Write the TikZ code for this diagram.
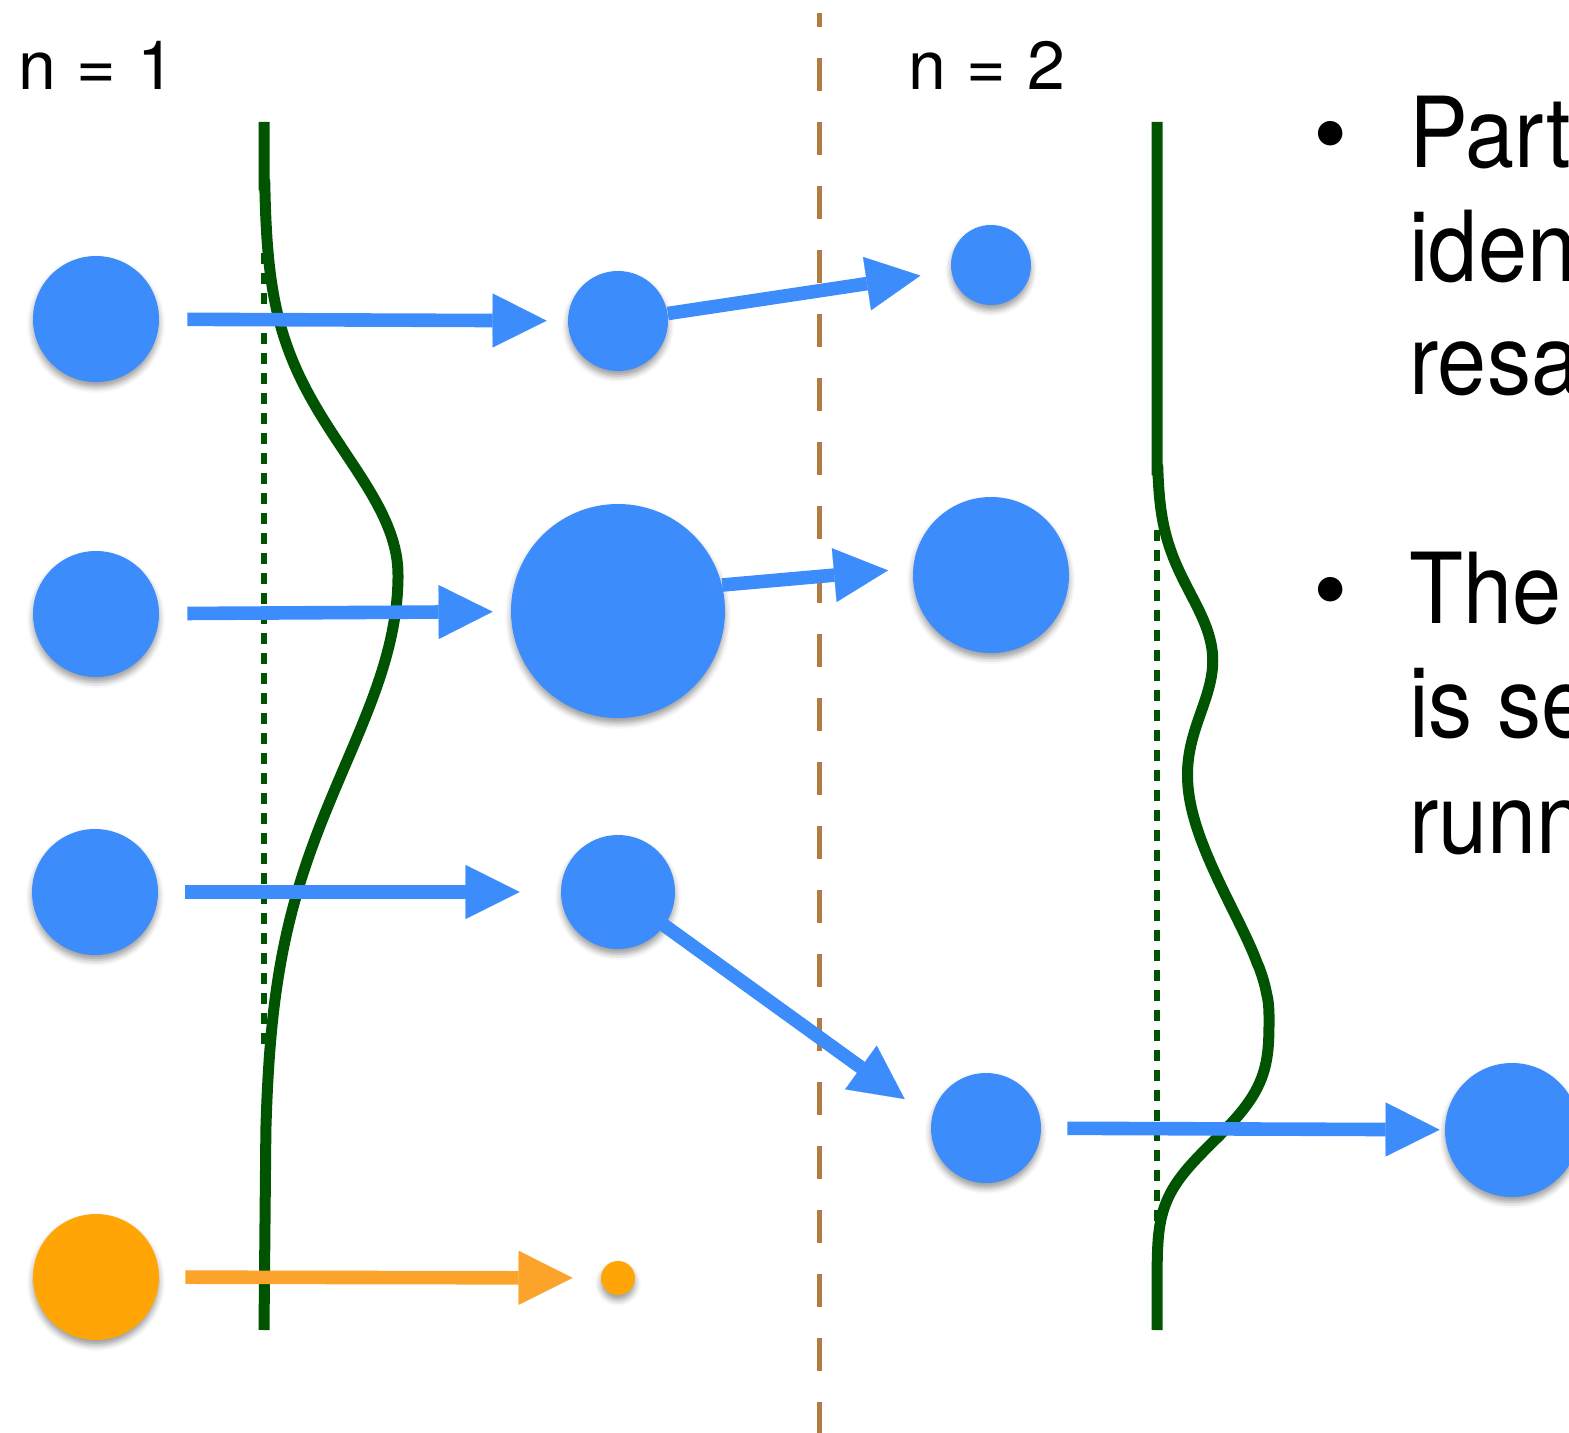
\documentclass[tikz,border=0pt]{standalone}
\usepackage{fontspec}
\setmainfont{TeX Gyre Heros}
\newfontfamily\narrowheros[FakeStretch=0.9]{TeX Gyre Heros}
\newfontfamily\wideheros[WordSpace=1.1]{TeX Gyre Heros}
\usetikzlibrary{arrows.meta,shadows.blur}
\definecolor{pblue}{HTML}{3C8CFC}
\definecolor{porange}{HTML}{FFA505}
\definecolor{porarrow}{HTML}{FCA32B}
\definecolor{pgreen}{HTML}{005300}
\definecolor{pbrown}{HTML}{B07C41}
\begin{document}
\begin{tikzpicture}[x=0.5pt,y=-0.5pt,
  particle/.style={circle, inner sep=0pt, fill=pblue, minimum size=#1,
    blur shadow={shadow xshift=0pt, shadow yshift=-2.5pt, shadow blur radius=3pt, shadow opacity=40}},
  oparticle/.style={particle=#1, fill=porange},
  barrow/.style={draw=pblue, line width=6.8pt,
    -{Triangle[length=27pt,width=27pt,line width=0.1pt]}},
  oarrow/.style={barrow, draw=porarrow},
  density/.style={draw=pgreen, line width=5.5pt},
  meanline/.style={draw=pgreen, line width=2.6pt, dash pattern=on 5.5pt off 4.5pt},
  split/.style={draw=pbrown, line width=2.5pt, dash pattern=on 16.5pt off 15.5pt, dash phase=9.5pt},
  label/.style={inner sep=0pt, anchor=base west, font=\fontsize{34}{40}\wideheros},
  bullettext/.style={inner sep=0pt, anchor=base west, font=\fontsize{49}{57}\narrowheros},
  bulletdot/.style={inner sep=0pt, anchor=base, font=\fontsize{49}{57}\selectfont}
]
\useasboundingbox (0,0) rectangle (1569,1433);

% labels
\node[label] (n1) at (18,90) {n = 1};
\node[label] (n2) at (908,90) {n = 2};

% iteration separator
\coordinate (septop) at (819,13);
\coordinate (sepbot) at (819,1433);
\draw[split] (septop) -- (sepbot);

% densities
\coordinate (d1top) at (264,122);
\coordinate (d1bot) at (264,1330);
\draw[density] (d1top) -- (264,185)
  -- plot[domain=185:1130, samples=160, variable=\t]
     ({264+134*exp(-min(((\t-575)/((\t<575)?122:190))^2/2,15))}, \t)
  -- (d1bot);
\coordinate (m1top) at (264,253);
\coordinate (m1bot) at (264,1051);
\draw[meanline] (m1top) -- (m1bot);

\coordinate (d2top) at (1157,122);
\coordinate (d2bot) at (1157,1330);
\draw[density] (d2top) -- (1157,470)
  -- plot[domain=470:1265, samples=180, variable=\t]
     ({1157+51*exp(-min(((\t-655)/63)^2/2,15))
       +112*((\t<1015) ? exp(-min(pow(((1015-\t)/176)^2+0.0517,0.825)-0.0866,15))
                       : exp(-min(pow(abs(\t-1015)/142+0.001,3.3),15)))}, \t)
  -- (d2bot);
\coordinate (m2top) at (1157,530);
\coordinate (m2bot) at (1157,1223);
\draw[meanline] (m2top) -- (m2bot);

% particles
\node[particle=63pt] (l1) at (96,319) {};
\node[particle=63pt] (l2) at (96,614) {};
\node[particle=63pt] (l3) at (95,892) {};
\node[oparticle=63pt] (lo) at (96,1277) {};

\node[particle=50pt] (m1) at (618,321) {};
\node[particle=107pt] (m2) at (618,611) {};
\node[particle=57pt] (m3) at (618,892) {};
\node[oparticle=17pt] (mo) at (618,1278) {};

\node[particle=40pt] (r1) at (991,265) {};
\node[particle=78pt] (r2) at (991,575) {};
\node[particle=55pt] (r3) at (986,1128) {};

\node[particle=67pt] (f1) at (1512,1130) {};

% arrows
\draw[barrow, shorten <=14pt, shorten >=10.5pt] (l1) -- (m1);
\draw[barrow, shorten <=14pt, shorten >=9pt] (l2) -- (m2);
\draw[barrow, shorten <=13.5pt, shorten >=20.5pt] (l3) -- (m3);
\draw[oarrow, shorten <=13pt, shorten >=14pt] (lo) -- (mo);

\draw[barrow, shorten >=15.5pt] (m1) -- (r1);
\draw[barrow, shorten >=12.5pt] (m2.14) -- (r2.175);
\draw[barrow, shorten <=22.5pt, shorten >=16.5pt] (m3.center) -- (r3.170);
\draw[barrow, shorten <=13pt, shorten >=2.5pt] (r3) -- (f1);

% bullet text
\node[bulletdot] (b1) at (1331,168) {•};
\node[bullettext] (t1) at (1409,168) {Part};
\node[bullettext] (t2) at (1409,282) {iden};
\node[bullettext] (t3) at (1409,395) {resa};
\node[bulletdot] (b2) at (1331,623) {•};
\node[bullettext] (t4) at (1409,623) {The};
\node[bullettext] (t5) at (1409,737) {is se};
\node[bullettext] (t6) at (1409,853) {runn};
\end{tikzpicture}
\end{document}
